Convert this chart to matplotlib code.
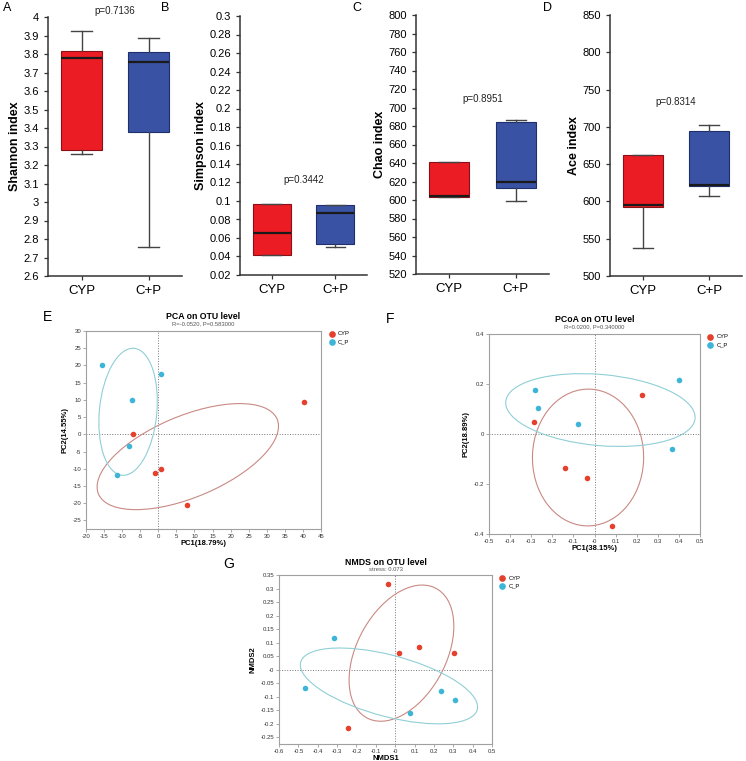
import numpy as np
import matplotlib
matplotlib.use("Agg")
import matplotlib.pyplot as plt
from matplotlib.patches import Ellipse

plt.rcParams['font.family'] = ['Liberation Sans', 'DejaVu Sans']

# ---- alpha diversity boxes: [min, q1, median, q3, max] ----
groups = ["CYP", "C+P"]
shannon_cyp = [3.262, 3.28, 3.78, 3.816, 3.925]
shannon_cp = [2.755, 3.38, 3.755, 3.813, 3.889]
simpson_cyp = [0.0418, 0.0418, 0.0655, 0.0968, 0.0968]
simpson_cp = [0.050, 0.0537, 0.0874, 0.0957, 0.0957]
chao_cyp = [603, 603, 604, 641, 641]
chao_cp = [599, 613, 619, 684, 687]
ace_cyp = [538, 592, 595, 662, 662]
ace_cp = [607, 621, 622, 695, 702]
p_values = ["p=0.7136", "p=0.3442", "p=0.8951", "p=0.8314"]

# ---- ordination points ----
pca_cyp_x = [-7.0, -1.0, 0.7, 7.8, 40.3]
pca_cyp_y = [0.0, -11.3, -10.2, -20.4, 9.5]
pca_cp_x = [-15.7, 0.7, -7.4, -8.1, -11.3]
pca_cp_y = [20.2, 17.6, 10.1, -3.3, -11.9]

pcoa_cyp_x = [-0.286, 0.223, -0.139, -0.036, 0.085]
pcoa_cyp_y = [0.048, 0.158, -0.134, -0.174, -0.368]
pcoa_cp_x = [-0.283, -0.266, -0.079, 0.402, 0.366]
pcoa_cp_y = [0.175, 0.106, 0.041, 0.215, -0.058]

nmds_cyp_x = [-0.039, 0.018, 0.125, 0.302, -0.244]
nmds_cyp_y = [0.315, 0.060, 0.085, 0.060, -0.215]
nmds_cp_x = [-0.314, -0.466, 0.235, 0.309, 0.075]
nmds_cp_y = [0.116, -0.068, -0.079, -0.111, -0.159]

W, H = 746, 761
fig = plt.figure(figsize=(W / 100, H / 100), dpi=100)


def px_axes(left, top, right, bottom):
    return fig.add_axes([left / W, 1 - bottom / H, (right - left) / W, (bottom - top) / H])


box_red = '#ec1c24'
box_blue = '#3a52a3'


def box_panel(rect, cyp, cp, ylim, step, ylabel, ptxt, py, letter, lpos):
    ax = px_axes(*rect)
    stats = []
    for v in (cyp, cp):
        stats.append(dict(whislo=v[0], q1=v[1], med=v[2], q3=v[3], whishi=v[4], fliers=[]))
    bp = ax.bxp(stats, positions=[1, 2], widths=0.6, patch_artist=True,
                showfliers=False,
                medianprops=dict(color='#1a1a1a', linewidth=1.6),
                whiskerprops=dict(color='#444444', linewidth=1.0),
                capprops=dict(color='#444444', linewidth=1.0),
                capwidths=0.3)
    for patch, fc, ec in zip(bp['boxes'], [box_red, box_blue], ['#8a1015', '#1f2f6e']):
        patch.set_facecolor(fc)
        patch.set_edgecolor(ec)
        patch.set_linewidth(0.8)
    ax.set_xlim(0.5, 2.5)
    ax.set_ylim(*ylim)
    ticks = np.arange(ylim[0], ylim[1] + step / 2, step)
    ax.set_yticks(ticks)
    ax.set_yticklabels([f'{round(t, 4):g}' for t in ticks])
    ax.set_xticks([1, 2])
    ax.set_xticklabels(groups, fontsize=9.5)
    ax.tick_params(axis='y', labelsize=8, length=3, width=0.9, color='#333333')
    ax.tick_params(axis='x', length=3, width=0.9, color='#333333')
    for s in ['top', 'right']:
        ax.spines[s].set_visible(False)
    for s in ['left', 'bottom']:
        ax.spines[s].set_linewidth(1.1)
        ax.spines[s].set_color('#333333')
    ax.set_ylabel(ylabel, fontsize=9, fontweight='bold', labelpad=2)
    ax.text(1.5, py, ptxt, ha='center', va='center', fontsize=7, color='#222222', clip_on=False)
    fig.text(lpos[0] / W, 1 - lpos[1] / H, letter, fontsize=9, ha='left', va='center')
    return ax


box_panel((48, 17, 182, 276), shannon_cyp, shannon_cp, (2.6, 4.0), 0.1,
          'Shannon index', p_values[0], 4.03, 'A', (3, 8))
box_panel((240, 16, 367, 275), simpson_cyp, simpson_cp, (0.02, 0.3), 0.02,
          'Simpson index', p_values[1], 0.123, 'B', (161, 8))
box_panel((416, 15, 549, 274), chao_cyp, chao_cp, (520, 800), 20,
          'Chao index', p_values[2], 709, 'C', (352, 8))
box_panel((610, 15, 742, 276), ace_cyp, ace_cp, (500, 850), 50,
          'Ace index', p_values[3], 733, 'D', (543, 8))

pt_red = '#e5402d'
pt_blue = '#3db5d8'
el_red = '#c98983'
el_blue = '#8fcfd6'
ELL_SCALE = 1.34


def conf_ellipse(ax, x, y, color):
    x = np.asarray(x)
    y = np.asarray(y)
    cov = np.cov(x, y)
    vals, vecs = np.linalg.eigh(cov)
    order = vals.argsort()[::-1]
    vals, vecs = vals[order], vecs[:, order]
    angle = np.degrees(np.arctan2(vecs[1, 0], vecs[0, 0]))
    w, h = 2 * ELL_SCALE * np.sqrt(vals)
    ax.add_patch(Ellipse((x.mean(), y.mean()), w, h, angle=angle,
                         fill=False, edgecolor=color, linewidth=0.8))


def ord_panel(rect, cx, cy, bx, by, xlim, xticks, ylim, yticks, title, sub,
              xlabel, ylabel, letter, lpos):
    ax = px_axes(*rect)
    conf_ellipse(ax, cx, cy, el_red)
    conf_ellipse(ax, bx, by, el_blue)
    ax.axhline(0, color='#777777', linestyle=':', linewidth=0.7, zorder=0)
    ax.axvline(0, color='#777777', linestyle=':', linewidth=0.7, zorder=0)
    ax.scatter(cx, cy, s=16, color=pt_red, label='CYP', zorder=3, linewidths=0)
    ax.scatter(bx, by, s=16, color=pt_blue, label='C_P', zorder=3, linewidths=0)
    ax.set_xlim(*xlim)
    ax.set_ylim(*ylim)
    ax.set_xticks(xticks)
    ax.set_yticks(yticks)
    ax.set_xticklabels([f'{round(t, 3):g}' for t in xticks])
    ax.set_yticklabels([f'{round(t, 3):g}' for t in yticks])
    ax.tick_params(labelsize=4.3, length=2, width=0.5, color='#888888', pad=1.5,
                   labelcolor='#333333')
    for s in ax.spines.values():
        s.set_color('#a0a0a0')
        s.set_linewidth(0.8)
    ax.set_xlabel(xlabel, fontsize=5.5, fontweight='bold', labelpad=1)
    ax.set_ylabel(ylabel, fontsize=5.5, fontweight='bold', labelpad=3)
    ax.text(0.5, 1.075, title, transform=ax.transAxes, ha='center', va='center',
            fontsize=6.3, fontweight='bold')
    ax.text(0.5, 1.035, sub, transform=ax.transAxes, ha='center', va='center',
            fontsize=4.2, color='#555555')
    ax.legend(loc='upper left', bbox_to_anchor=(1.01, 1.01), frameon=False,
              fontsize=4.2, handletextpad=0.1, markerscale=1.2, borderaxespad=0,
              labelspacing=0.5)
    fig.text(lpos[0] / W, 1 - lpos[1] / H, letter, fontsize=10, ha='center', va='center')
    return ax


ord_panel((86, 331, 321, 529), pca_cyp_x, pca_cyp_y, pca_cp_x, pca_cp_y,
          (-20, 45), np.arange(-20, 46, 5), (-27.5, 30), np.arange(-25, 31, 5),
          'PCA on OTU level', 'R=-0.0520, P=0.583000',
          'PC1(18.79%)', 'PC2(14.55%)', 'E', (48, 317))
ord_panel((489, 334, 700, 534), pcoa_cyp_x, pcoa_cyp_y, pcoa_cp_x, pcoa_cp_y,
          (-0.5, 0.5), np.arange(-0.5, 0.51, 0.1), (-0.4, 0.4), np.arange(-0.4, 0.41, 0.2),
          'PCoA on OTU level', 'R=0.0200, P=0.340000',
          'PC1(38.15%)', 'PC2(18.89%)', 'F', (390, 319))
ord_panel((279, 575, 492, 744), nmds_cyp_x, nmds_cyp_y, nmds_cp_x, nmds_cp_y,
          (-0.6, 0.5), np.arange(-0.6, 0.51, 0.1), (-0.275, 0.35), np.arange(-0.25, 0.36, 0.05),
          'NMDS on OTU level', 'stress: 0.073',
          'NMDS1', 'NMDS2', 'G', (229, 564))

fig.savefig('out.png', dpi=100)
